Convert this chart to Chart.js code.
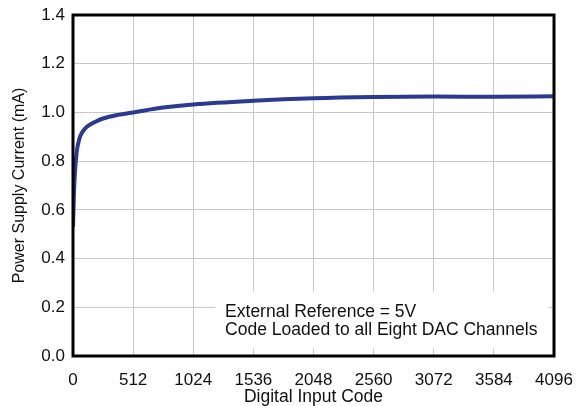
<!DOCTYPE html>
<html><head><meta charset="utf-8">
<script src="https://cdn.jsdelivr.net/npm/chart.js@4/dist/chart.umd.min.js"></script>
<style>html,body{margin:0;padding:0;background:#fff}#wrap{width:577px;height:406px;position:relative}</style>
</head><body><div id="wrap"><canvas id="c" width="577" height="406"></canvas></div>
<script>
const codes = [0, 4, 8, 16, 24, 32, 48, 64, 96, 128, 192, 256, 384, 512, 768, 1024, 1536, 2048, 2560, 3072, 3584, 4096];
const currents = [0.53, 0.60, 0.67, 0.75, 0.80, 0.84, 0.88, 0.905, 0.93, 0.945, 0.962, 0.975, 0.99, 1.0, 1.02, 1.033, 1.048, 1.058, 1.063, 1.065, 1.064, 1.066];
const xTicks = [0, 512, 1024, 1536, 2048, 2560, 3072, 3584, 4096];
const yTicks = [0, 0.2, 0.4, 0.6, 0.8, 1.0, 1.2, 1.4];
const noteLines = ["External Reference = 5V", "Code Loaded to all Eight DAC Channels"];
const FONT = "'Liberation Sans', Arial, sans-serif";

const notePlugin = {
  id: 'note',
  beforeDatasetsDraw(chart) {
    const {ctx, scales: {x, y}} = chart;
    const l = x.getPixelForValue(1210), r = x.getPixelForValue(4050);
    const t = y.getPixelForValue(0.265), b = y.getPixelForValue(0.03);
    ctx.save();
    ctx.fillStyle = '#fff';
    ctx.fillRect(l, t, r - l, b - t);
    ctx.fillStyle = '#111';
    ctx.font = "17.5px " + FONT;
    ctx.textBaseline = 'middle';
    ctx.fillText(noteLines[0], l + 10, t + 21);
    ctx.fillText(noteLines[1], l + 10, t + 39);
    ctx.restore();
  },
  afterDraw(chart) {
    const {ctx, chartArea: a} = chart;
    ctx.save();
    ctx.strokeStyle = '#000';
    ctx.lineWidth = 3;
    ctx.strokeRect(a.left, a.top, a.right - a.left, a.bottom - a.top);
    ctx.restore();
  }
};

new Chart(document.getElementById('c'), {
  type: 'line',
  data: {
    datasets: [{
      data: codes.map((c, i) => ({x: c, y: currents[i]})),
      borderColor: '#2b3990',
      borderWidth: 4,
      pointRadius: 0,
      tension: 0.4,
      cubicInterpolationMode: 'monotone',
      fill: false
    }]
  },
  options: {
    responsive: false,
    animation: false,
    layout: {padding: {top: 15, right: 23, left: 0, bottom: 0}},
    plugins: {legend: {display: false}, tooltip: {enabled: false}},
    scales: {
      x: {
        type: 'linear', min: 0, max: 4096,
        afterBuildTicks: s => { s.ticks = xTicks.map(v => ({value: v})); },
        afterFit: s => { s.height = 50; s.paddingRight = 0; s.paddingLeft = 0; },
        grid: {color: '#c8c8c8', lineWidth: 1, drawTicks: false},
        border: {display: false},
        ticks: {color: '#111', font: {family: FONT, size: 17}, padding: 14, maxRotation: 0,
                callback: v => String(v)},
        title: {display: true, text: 'Digital Input Code', color: '#111', font: {family: FONT, size: 17.5, lineHeight: 1.0}, padding: {top: 0, bottom: 0}}
      },
      y: {
        min: 0, max: 1.4,
        afterBuildTicks: s => { s.ticks = yTicks.map(v => ({value: v})); },
        afterFit: s => { s.width = 73; s.paddingTop = 0; s.paddingBottom = 0; },
        grid: {color: '#c8c8c8', lineWidth: 1, drawTicks: false},
        border: {display: false},
        ticks: {color: '#111', font: {family: FONT, size: 17}, padding: 8, callback: v => v.toFixed(1)},
        title: {display: true, text: 'Power Supply Current (mA)', color: '#111', font: {family: FONT, size: 16}, padding: {top: 10, bottom: 0}}
      }
    }
  },
  plugins: [notePlugin]
});
</script></body></html>
